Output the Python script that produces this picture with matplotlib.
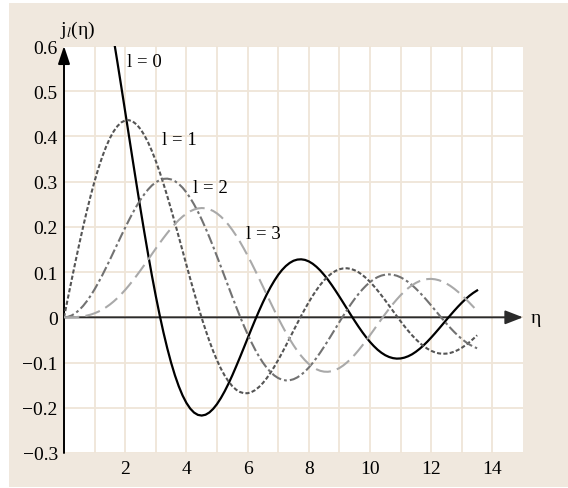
import matplotlib
matplotlib.use("Agg")
import matplotlib.pyplot as plt
from matplotlib.patches import Rectangle, FancyArrowPatch

plt.rcParams['font.family'] = ['Liberation Serif', 'DejaVu Serif']
plt.rcParams['mathtext.fontset'] = 'stix'
plt.rcParams['lines.scale_dashes'] = False

# spherical Bessel functions j_l(eta), l = 0..3, tabulated every 0.125
eta = [0.0, 0.125, 0.25, 0.375, 0.5, 0.625, 0.75, 0.875,
       1.0, 1.125, 1.25, 1.375, 1.5, 1.625, 1.75, 1.875,
       2.0, 2.125, 2.25, 2.375, 2.5, 2.625, 2.75, 2.875,
       3.0, 3.125, 3.25, 3.375, 3.5, 3.625, 3.75, 3.875,
       4.0, 4.125, 4.25, 4.375, 4.5, 4.625, 4.75, 4.875,
       5.0, 5.125, 5.25, 5.375, 5.5, 5.625, 5.75, 5.875,
       6.0, 6.125, 6.25, 6.375, 6.5, 6.625, 6.75, 6.875,
       7.0, 7.125, 7.25, 7.375, 7.5, 7.625, 7.75, 7.875,
       8.0, 8.125, 8.25, 8.375, 8.5, 8.625, 8.75, 8.875,
       9.0, 9.125, 9.25, 9.375, 9.5, 9.625, 9.75, 9.875,
       10.0, 10.125, 10.25, 10.375, 10.5, 10.625, 10.75, 10.875,
       11.0, 11.125, 11.25, 11.375, 11.5, 11.625, 11.75, 11.875,
       12.0, 12.125, 12.25, 12.375, 12.5, 12.625, 12.75, 12.875,
       13.0, 13.125, 13.25, 13.375, 13.5]

j0 = [1.0000, 0.9974, 0.9896, 0.9767, 0.9589, 0.9362, 0.9089, 0.8772,
      0.8415, 0.8020, 0.7592, 0.7134, 0.6650, 0.6145, 0.5623, 0.5088,
      0.4546, 0.4002, 0.3458, 0.2921, 0.2394, 0.1882, 0.1388, 0.0916,
      0.0470, 0.0053, -0.0333, -0.0685, -0.1002, -0.1282, -0.1524, -0.1728,
      -0.1892, -0.2018, -0.2106, -0.2157, -0.2172, -0.2154, -0.2104, -0.2024,
      -0.1918, -0.1787, -0.1636, -0.1467, -0.1283, -0.1087, -0.0884, -0.0676,
      -0.0466, -0.0257, -0.0053, 0.0144, 0.0331, 0.0506, 0.0667, 0.0811,
      0.0939, 0.1047, 0.1135, 0.1203, 0.1251, 0.1277, 0.1283, 0.1270,
      0.1237, 0.1186, 0.1118, 0.1036, 0.0939, 0.0832, 0.0714, 0.0589,
      0.0458, 0.0324, 0.0188, 0.0053, -0.0079, -0.0207, -0.0328, -0.0441,
      -0.0544, -0.0636, -0.0717, -0.0784, -0.0838, -0.0877, -0.0902, -0.0913,
      -0.0909, -0.0891, -0.0860, -0.0817, -0.0761, -0.0695, -0.0620, -0.0537,
      -0.0447, -0.0352, -0.0254, -0.0154, -0.0053, 0.0046, 0.0143, 0.0236,
      0.0323, 0.0404, 0.0477, 0.0541, 0.0595]

j1 = [0.0, 0.0416, 0.0828, 0.1233, 0.1625, 0.2003, 0.2362, 0.2699,
      0.3012, 0.3296, 0.3551, 0.3773, 0.3962, 0.4115, 0.4232, 0.4311,
      0.4354, 0.4360, 0.4329, 0.4263, 0.4162, 0.4029, 0.3866, 0.3674,
      0.3457, 0.3217, 0.2956, 0.2680, 0.2389, 0.2089, 0.1782, 0.1471,
      0.1161, 0.0854, 0.0554, 0.0264, -0.0014, -0.0277, -0.0522, -0.0747,
      -0.0951, -0.1131, -0.1287, -0.1417, -0.1522, -0.1600, -0.1651, -0.1677,
      -0.1678, -0.1654, -0.1608, -0.1539, -0.1452, -0.1346, -0.1224, -0.1089,
      -0.0943, -0.0788, -0.0627, -0.0462, -0.0295, -0.0130, 0.0032, 0.0188,
      0.0336, 0.0475, 0.0603, 0.0718, 0.0819, 0.0904, 0.0974, 0.1027,
      0.1063, 0.1082, 0.1085, 0.1071, 0.1041, 0.0997, 0.0938, 0.0867,
      0.0785, 0.0692, 0.0592, 0.0485, 0.0373, 0.0258, 0.0142, 0.0027,
      -0.0087, -0.0196, -0.0300, -0.0397, -0.0486, -0.0566, -0.0636, -0.0694,
      -0.0740, -0.0775, -0.0797, -0.0806, -0.0802, -0.0787, -0.0760, -0.0722,
      -0.0673, -0.0615, -0.0549, -0.0476, -0.0397]

j2 = [0.0, 0.0010, 0.0041, 0.0093, 0.0164, 0.0253, 0.0360, 0.0483,
      0.0620, 0.0770, 0.0930, 0.1099, 0.1273, 0.1452, 0.1631, 0.1810,
      0.1984, 0.2153, 0.2314, 0.2464, 0.2601, 0.2723, 0.2829, 0.2918,
      0.2986, 0.3035, 0.3062, 0.3067, 0.3050, 0.3011, 0.2950, 0.2867,
      0.2763, 0.2639, 0.2497, 0.2338, 0.2163, 0.1974, 0.1774, 0.1564,
      0.1347, 0.1125, 0.0901, 0.0676, 0.0453, 0.0234, 0.0022, -0.0181,
      -0.0373, -0.0553, -0.0719, -0.0868, -0.1001, -0.1115, -0.1211, -0.1287,
      -0.1343, -0.1379, -0.1395, -0.1391, -0.1369, -0.1328, -0.1271, -0.1198,
      -0.1111, -0.1010, -0.0899, -0.0778, -0.0650, -0.0517, -0.0380, -0.0242,
      -0.0103, 0.0032, 0.0164, 0.0290, 0.0408, 0.0517, 0.0616, 0.0704,
      0.0779, 0.0842, 0.0890, 0.0924, 0.0944, 0.0950, 0.0942, 0.0920,
      0.0885, 0.0838, 0.0780, 0.0712, 0.0634, 0.0549, 0.0458, 0.0362,
      0.0262, 0.0161, 0.0059, -0.0042, -0.0140, -0.0233, -0.0322, -0.0404,
      -0.0479, -0.0544, -0.0601, -0.0648, -0.0684]

j3 = [0.0, 0.0000, 0.0001, 0.0005, 0.0012, 0.0023, 0.0039, 0.0061,
      0.0090, 0.0126, 0.0170, 0.0223, 0.0283, 0.0352, 0.0429, 0.0515,
      0.0607, 0.0707, 0.0813, 0.0924, 0.1039, 0.1158, 0.1278, 0.1400,
      0.1521, 0.1639, 0.1754, 0.1864, 0.1968, 0.2064, 0.2151, 0.2228,
      0.2292, 0.2345, 0.2384, 0.2408, 0.2417, 0.2411, 0.2389, 0.2352,
      0.2298, 0.2229, 0.2145, 0.2046, 0.1933, 0.1808, 0.1671, 0.1523,
      0.1367, 0.1203, 0.1033, 0.0858, 0.0682, 0.0504, 0.0327, 0.0153,
      -0.0016, -0.0179, -0.0335, -0.0481, -0.0617, -0.0741, -0.0852, -0.0949,
      -0.1031, -0.1097, -0.1148, -0.1183, -0.1201, -0.1204, -0.1191, -0.1163,
      -0.1121, -0.1065, -0.0996, -0.0917, -0.0827, -0.0728, -0.0622, -0.0511,
      -0.0395, -0.0277, -0.0158, -0.0039, 0.0077, 0.0189, 0.0296, 0.0396,
      0.0489, 0.0573, 0.0647, 0.0710, 0.0762, 0.0802, 0.0830, 0.0846,
      0.0850, 0.0841, 0.0821, 0.0789, 0.0747, 0.0695, 0.0634, 0.0565,
      0.0489, 0.0408, 0.0322, 0.0234, 0.0143]

curve_labels = ['l = 0', 'l = 1', 'l = 2', 'l = 3']
label_pos = [(2.05, 0.565), (3.2, 0.394), (4.2, 0.288), (5.95, 0.185)]

x_ticks = list(range(1, 15))
x_ticklabels = [str(v) if v % 2 == 0 else '' for v in x_ticks]
y_ticks = [-0.3, -0.2, -0.1, 0.0, 0.1, 0.2, 0.3, 0.4, 0.5, 0.6]
y_ticklabels = ['\u22120.3', '\u22120.2', '\u22120.1', '0', '0.1', '0.2',
                '0.3', '0.4', '0.5', '0.6']

BEIGE = '#f0e8de'
GRID = '#efe5d8'

fig = plt.figure(figsize=(5.68, 4.89), dpi=100, facecolor='white')
fig.patches.append(Rectangle((9 / 568, 1 / 489), 559 / 568, 484 / 489,
                             transform=fig.transFigure, facecolor=BEIGE,
                             edgecolor='none', zorder=-1))

ax = fig.add_axes([64 / 568, 35 / 489, 459 / 568, 407 / 489])
ax.set_zorder(1)
ax.set_facecolor('white')
ax.set_xlim(0, 15)
ax.set_ylim(-0.3, 0.6)
for sp in ax.spines.values():
    sp.set_visible(False)

ax.set_xticks(x_ticks)
ax.set_xticklabels(x_ticklabels, fontsize=14)
ax.set_yticks(y_ticks)
ax.set_yticklabels(y_ticklabels, fontsize=14)
ax.tick_params(axis='both', length=0)
ax.tick_params(axis='x', pad=5)
ax.tick_params(axis='y', pad=4.5)
ax.grid(True, color=GRID, lw=1.3)
ax.set_axisbelow(True)

# curves
ax.plot(eta, j0, color='black', lw=1.6, zorder=4)
ax.plot(eta, j1, color='#555555', lw=1.5, dashes=(3, 1.6), zorder=4)
ax.plot(eta, j2, color='#727272', lw=1.5, dashes=(7.5, 2.2, 2, 2.2), zorder=4)
ax.plot(eta, j3, color='#a9a9a9', lw=1.5, dashes=(11, 4.5), zorder=4)

for txt, (x, y) in zip(curve_labels, label_pos):
    ax.text(x, y, txt, fontsize=13.5, ha='left', va='center', zorder=5)

# axes with arrow heads
xarrow = FancyArrowPatch((0, 0), (15, 0), arrowstyle='-|>,head_length=0.9,head_width=0.35',
                         mutation_scale=12, color='#2b2b2b', lw=1.4,
                         shrinkA=0, shrinkB=0, zorder=3, clip_on=False)
yarrow = FancyArrowPatch((0, -0.3), (0, 0.6), arrowstyle='-|>,head_length=0.9,head_width=0.3',
                         mutation_scale=12, color='black', lw=1.4,
                         shrinkA=0, shrinkB=0, zorder=3, clip_on=False)
ax.add_patch(xarrow)
ax.add_patch(yarrow)

ax.text(15.25, 0, '\u03b7', fontsize=14, ha='left', va='center', clip_on=False)
ax.text(-0.12, 0.637, 'j$_{\\mathit{l}}$(\u03b7)',
        fontsize=14, ha='left', va='center', clip_on=False)

fig.savefig('out.png', dpi=100, facecolor='white')
